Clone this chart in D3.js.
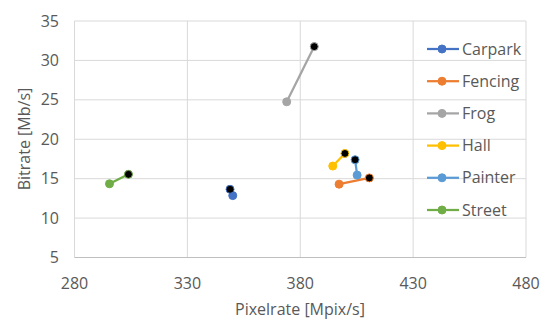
<!DOCTYPE html>
<html><head><meta charset="utf-8">
<script src="https://cdn.jsdelivr.net/npm/d3@7"></script>
<style>body{margin:0;background:#fff}</style>
</head><body>
<svg id="c" width="543" height="320"></svg>
<script>
const seriesNames = ["Carpark","Fencing","Frog","Hall","Painter","Street"];
const seriesColors = ["#4472C4","#ED7D31","#A5A5A5","#FFC000","#5B9BD5","#70AD47"];
// each series: [start point, end point] as [pixelrate, bitrate]
const carpark = [[350.1,12.85],[348.9,13.65]];
const fencing = [[397.2,14.3],[410.6,15.1]];
const frog = [[374.0,24.75],[386.2,31.75]];
const hall = [[394.4,16.6],[399.8,18.2]];
const painter = [[405.2,15.45],[404.3,17.4]];
const street = [[295.5,14.35],[303.9,15.55]];
const seriesData = [carpark,fencing,frog,hall,painter,street];
const xTicks = [280,330,380,430,480];
const yTicks = [5,10,15,20,25,30,35];

const svg = d3.select("#c");
const font = "'Open Sans', sans-serif";
const fs = 16;
const x = d3.scaleLinear().domain([280,480]).range([74.5,526]);
const y = d3.scaleLinear().domain([5,35]).range([257.5,21]);
const txt = "#595959";

// gridlines
svg.append("g").selectAll("line.h").data(yTicks.slice(1)).join("line")
  .attr("x1",x(280)).attr("x2",x(480)).attr("y1",d=>y(d)).attr("y2",d=>y(d))
  .attr("stroke","#D9D9D9").attr("stroke-width",1);
svg.append("g").selectAll("line.v").data(xTicks).join("line")
  .attr("x1",d=>x(d)).attr("x2",d=>x(d)).attr("y1",y(5)).attr("y2",y(35))
  .attr("stroke","#D9D9D9").attr("stroke-width",1);
svg.append("line").attr("x1",x(280)).attr("x2",x(480)).attr("y1",y(5)).attr("y2",y(5))
  .attr("stroke","#BFBFBF").attr("stroke-width",1);

// tick labels
svg.append("g").selectAll("text").data(yTicks).join("text")
  .attr("x",59).attr("y",d=>y(d)).attr("dy","0.35em").attr("text-anchor","end")
  .attr("font-family",font).attr("font-size",fs).attr("fill",txt).text(d=>d);
svg.append("g").selectAll("text").data(xTicks).join("text")
  .attr("x",d=>x(d)).attr("y",289).attr("text-anchor","middle")
  .attr("font-family",font).attr("font-size",fs).attr("fill",txt).text(d=>d);

// axis titles
svg.append("text").attr("x",300).attr("y",315).attr("text-anchor","middle")
  .attr("font-family",font).attr("font-size",fs).attr("fill",txt).text("Pixelrate [Mpix/s]");
svg.append("text").attr("transform","translate(30,139) rotate(-90)").attr("text-anchor","middle")
  .attr("font-family",font).attr("font-size",fs).attr("fill",txt).text("Bitrate [Mb/s]");

// series
const line = d3.line().x(d=>x(d[0])).y(d=>y(d[1]));
seriesData.forEach((s,i)=>{
  const g = svg.append("g");
  g.append("path").attr("d",line(s)).attr("fill","none")
    .attr("stroke",seriesColors[i]).attr("stroke-width",2.25);
  g.selectAll("circle").data(s).join("circle")
    .attr("cx",d=>x(d[0])).attr("cy",d=>y(d[1])).attr("r",4)
    .attr("fill",(d,j)=>j===s.length-1?"#000":seriesColors[i])
    .attr("stroke",seriesColors[i]).attr("stroke-width",1);
});

// legend
const lg = svg.append("g");
seriesNames.forEach((n,i)=>{
  const yy = 49 + i*32.2;
  lg.append("line").attr("x1",427).attr("x2",459).attr("y1",yy).attr("y2",yy)
    .attr("stroke",seriesColors[i]).attr("stroke-width",2.25);
  lg.append("circle").attr("cx",442).attr("cy",yy).attr("r",4)
    .attr("fill",seriesColors[i]).attr("stroke",seriesColors[i]);
  lg.append("text").attr("x",462).attr("y",yy).attr("dy","0.35em")
    .attr("font-family",font).attr("font-size",fs).attr("fill",txt).text(n);
});
</script>
</body></html>
